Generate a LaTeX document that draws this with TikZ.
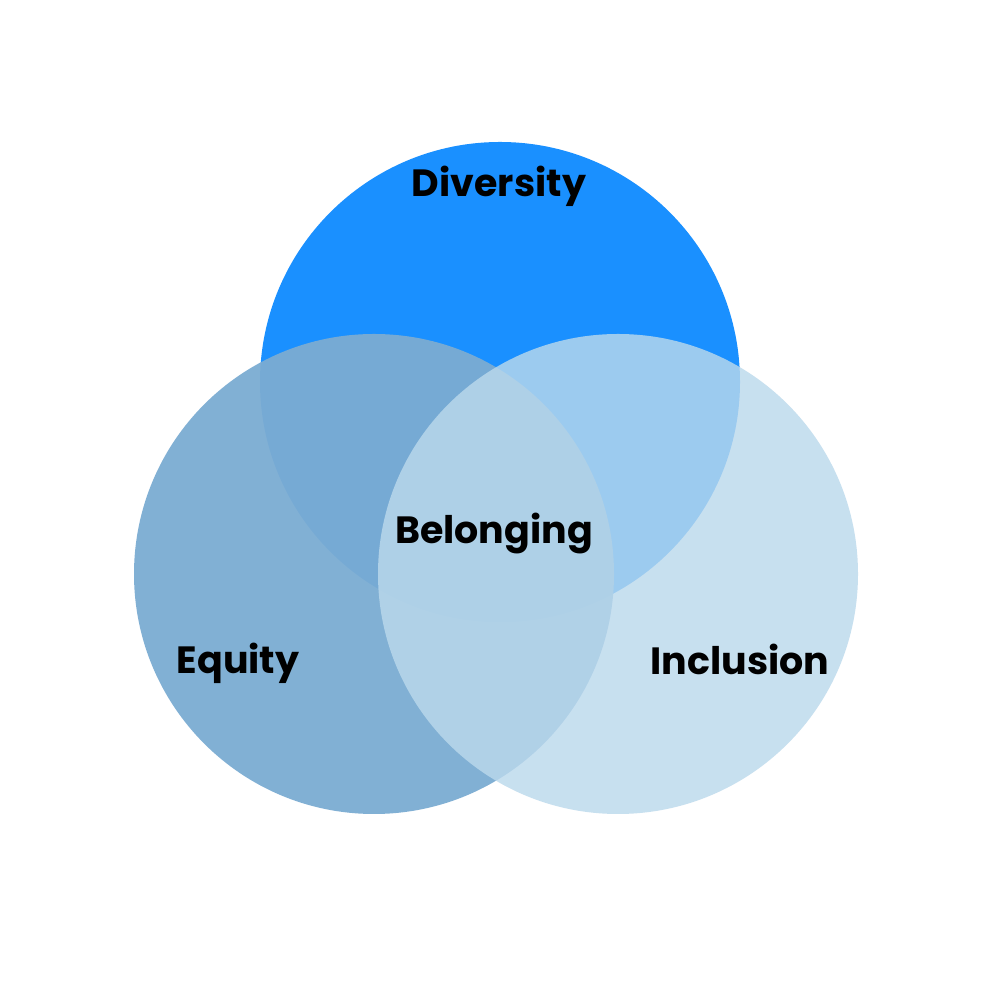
\documentclass[tikz,border=0pt]{standalone}
\usepackage{fontspec}
\setmainfont{Poppins}
\usepackage{tikz}

\definecolor{divblue}{HTML}{1A90FF}
\definecolor{eqblue}{HTML}{7BACD2}
\definecolor{inblue}{HTML}{BBD9EC}

\begin{document}
\begin{tikzpicture}[x=0.01cm,y=0.01cm,
    lbl/.style={anchor=base, inner sep=0pt, font=\fontsize{10.8pt}{13pt}\selectfont\bfseries}]
  \fill[white] (0,0) rectangle (1000,1000);
  \useasboundingbox (0,0) rectangle (1000,1000);

  \begin{scope}
    \fill[divblue] (500,618) circle (240);
    \fill[eqblue, fill opacity=0.95] (374,426) circle (240);
    \fill[inblue, fill opacity=0.81] (618,426) circle (240);
  \end{scope}

  \node[lbl] (diversity) at (499,803) {Diversity};
  \node[lbl] (belonging) at (494,456) {Belonging};
  \node[lbl] (equity) at (238,326) {Equity};
  \node[lbl] (inclusion) at (740,325) {Inclusion};

\end{tikzpicture}
\end{document}
